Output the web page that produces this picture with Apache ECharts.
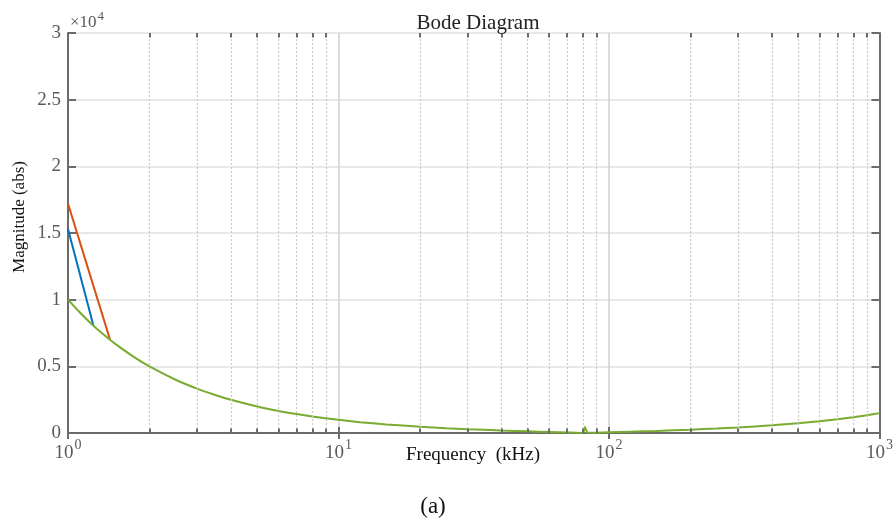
<!DOCTYPE html>
<html>
<head>
<meta charset="utf-8">
<script src="https://cdn.jsdelivr.net/npm/echarts@6/dist/echarts.min.js"></script>
<style>
  html, body { margin: 0; padding: 0; background: #fff; }
  #chart { width: 896px; height: 521px; }
</style>
</head>
<body>
<div id="chart"></div>
<script>
// values (frequency in kHz, magnitude in abs)
const freq = [1, 1.1, 1.2, 1.3, 1.5, 1.75, 2, 2.5, 3, 3.5, 4, 5, 6, 7, 8, 10, 12, 15, 20, 25, 30, 40, 50, 60, 70, 75, 79, 80.5, 81.5, 83, 85, 90, 100, 120, 150, 200, 250, 300, 400, 500, 600, 700, 800, 900, 1000]
const magGreen = [9998, 9090, 8331, 7690, 6665, 5712, 4997, 3996, 3329, 2852, 2494, 1993, 1658, 1418, 1238, 985, 815, 644, 470, 363, 288, 190, 125, 77, 38, 21, 8, 60, 450, 60, 10, 24, 50, 97, 158, 250, 335, 417, 575, 730, 883, 1036, 1188, 1339, 1490]
const blueLine = [[1, 15300], [1.24, 8100]]
const orangeLine = [[1, 17200], [1.43, 7000]]

const yTicks = [0, 5000, 10000, 15000, 20000, 25000, 30000]
const minorTicks = [2, 3, 4, 5, 6, 7, 8, 9, 20, 30, 40, 50, 60, 70, 80, 90, 200, 300, 400, 500, 600, 700, 800, 900]

const serif = 'Liberation Serif'
const axisColor = '#6b6b6b'
const labelColor = '#5a5a5a'

const chart = echarts.init(document.getElementById('chart'))

const minorGrid = minorTicks.map(v => ({ xAxis: v }))
const minorTickMarks = []
minorTicks.forEach(v => {
    minorTickMarks.push([{ coord: [v, 0] }, { coord: [v, 330] }])
    minorTickMarks.push([{ coord: [v, 30000] }, { coord: [v, 29670] }])
})

chart.setOption({
    animation: false,
    title: {
        text: 'Bode Diagram',
        left: 473,
        top: 8,
        textAlign: 'center',
        textStyle: { fontFamily: serif, fontSize: 21, fontWeight: 'normal', color: '#222' }
    },
    grid: { left: 68, right: 16, top: 33, bottom: 88 },
    graphic: [
        {
            type: 'text',
            left: 70,
            top: 10,
            style: {
                text: '{a|×10}{b|4}',
                rich: {
                    a: { fontFamily: serif, fontSize: 17, fill: labelColor, lineHeight: 26, verticalAlign: 'middle' },
                    b: { fontFamily: serif, fontSize: 13, fill: labelColor, lineHeight: 8, verticalAlign: 'top', padding: [0, 0, 0, 1] }
                }
            }
        },
        {
            type: 'text',
            x: 20,
            y: 217,
            rotation: Math.PI / 2,
            style: {
                text: 'Magnitude (abs)',
                fontFamily: serif, fontSize: 17, fill: '#111',
                align: 'center', verticalAlign: 'middle'
            }
        },
        {
            type: 'text',
            x: 473,
            y: 455,
            style: {
                text: 'Frequency  (kHz)',
                fontFamily: serif, fontSize: 19, fill: '#111',
                align: 'center', verticalAlign: 'middle'
            }
        },
        {
            type: 'text',
            x: 433,
            y: 507,
            style: {
                text: '(a)', fontFamily: serif, fontSize: 23, fill: '#111',
                align: 'center', verticalAlign: 'middle'
            }
        }
    ],
    xAxis: [
        {
            type: 'log',
            logBase: 10,
            min: 1,
            max: 1000,
            axisLine: { lineStyle: { color: axisColor, width: 2 } },
            axisTick: { inside: true, length: 6, lineStyle: { color: axisColor, width: 2 } },
            axisLabel: {
                margin: 5,
                formatter: v => '{a|10}{b|' + Math.round(Math.log10(v)) + '}',
                rich: {
                    a: { fontFamily: serif, fontSize: 19, color: labelColor, lineHeight: 30, verticalAlign: 'middle' },
                    b: { fontFamily: serif, fontSize: 14, color: labelColor, lineHeight: 10, verticalAlign: 'top', padding: [0, 0, 0, 1] }
                }
            },
            splitLine: { show: true, lineStyle: { color: '#cfcfcf', width: 1.5 } }
        },
        {
            type: 'log',
            logBase: 10,
            min: 1,
            max: 1000,
            position: 'top',
            axisLine: { lineStyle: { color: axisColor, width: 2 } },
            axisTick: { inside: true, length: 6, lineStyle: { color: axisColor, width: 2 } },
            axisLabel: { show: false },
            splitLine: { show: false }
        }
    ],
    yAxis: [
        {
            type: 'value',
            min: 0,
            max: 30000,
            interval: 5000,
            axisLine: { show: true, lineStyle: { color: axisColor, width: 2 } },
            axisTick: { show: true, inside: true, length: 8, lineStyle: { color: axisColor, width: 2 } },
            axisLabel: {
                fontFamily: serif, fontSize: 19, color: labelColor, margin: 7,
                formatter: v => yTicks.includes(v) ? String(v / 10000) : ''
            },
            splitLine: { show: true, lineStyle: { color: '#e0e0e0', width: 1.5 } }
        },
        {
            type: 'value',
            min: 0,
            max: 30000,
            interval: 5000,
            position: 'right',
            axisLine: { show: true, lineStyle: { color: axisColor, width: 2 } },
            axisTick: { show: true, inside: true, length: 8, lineStyle: { color: axisColor, width: 2 } },
            axisLabel: { show: false },
            splitLine: { show: false }
        }
    ],
    series: [
        {
            name: 'minor',
            type: 'line',
            data: [],
            silent: true,
            markLine: {
                silent: true,
                symbol: 'none',
                label: { show: false },
                lineStyle: { color: '#c8c8c8', type: [2, 2], width: 1.2 },
                data: minorGrid
            }
        },
        {
            name: 'minorTicks',
            type: 'line',
            data: [],
            silent: true,
            markLine: {
                silent: true,
                symbol: 'none',
                label: { show: false },
                lineStyle: { color: axisColor, type: 'solid', width: 2 },
                data: minorTickMarks
            }
        },
        {
            name: 'blue',
            type: 'line',
            showSymbol: false,
            lineStyle: { color: '#0072BD', width: 2 },
            data: blueLine
        },
        {
            name: 'orange',
            type: 'line',
            showSymbol: false,
            lineStyle: { color: '#D95319', width: 2 },
            data: orangeLine
        },
        {
            name: 'green',
            type: 'line',
            showSymbol: false,
            smooth: 0.2,
            lineStyle: { color: '#77AC30', width: 2 },
            data: freq.map((f, i) => [f, magGreen[i]])
        }
    ]
})
</script>
</body>
</html>
